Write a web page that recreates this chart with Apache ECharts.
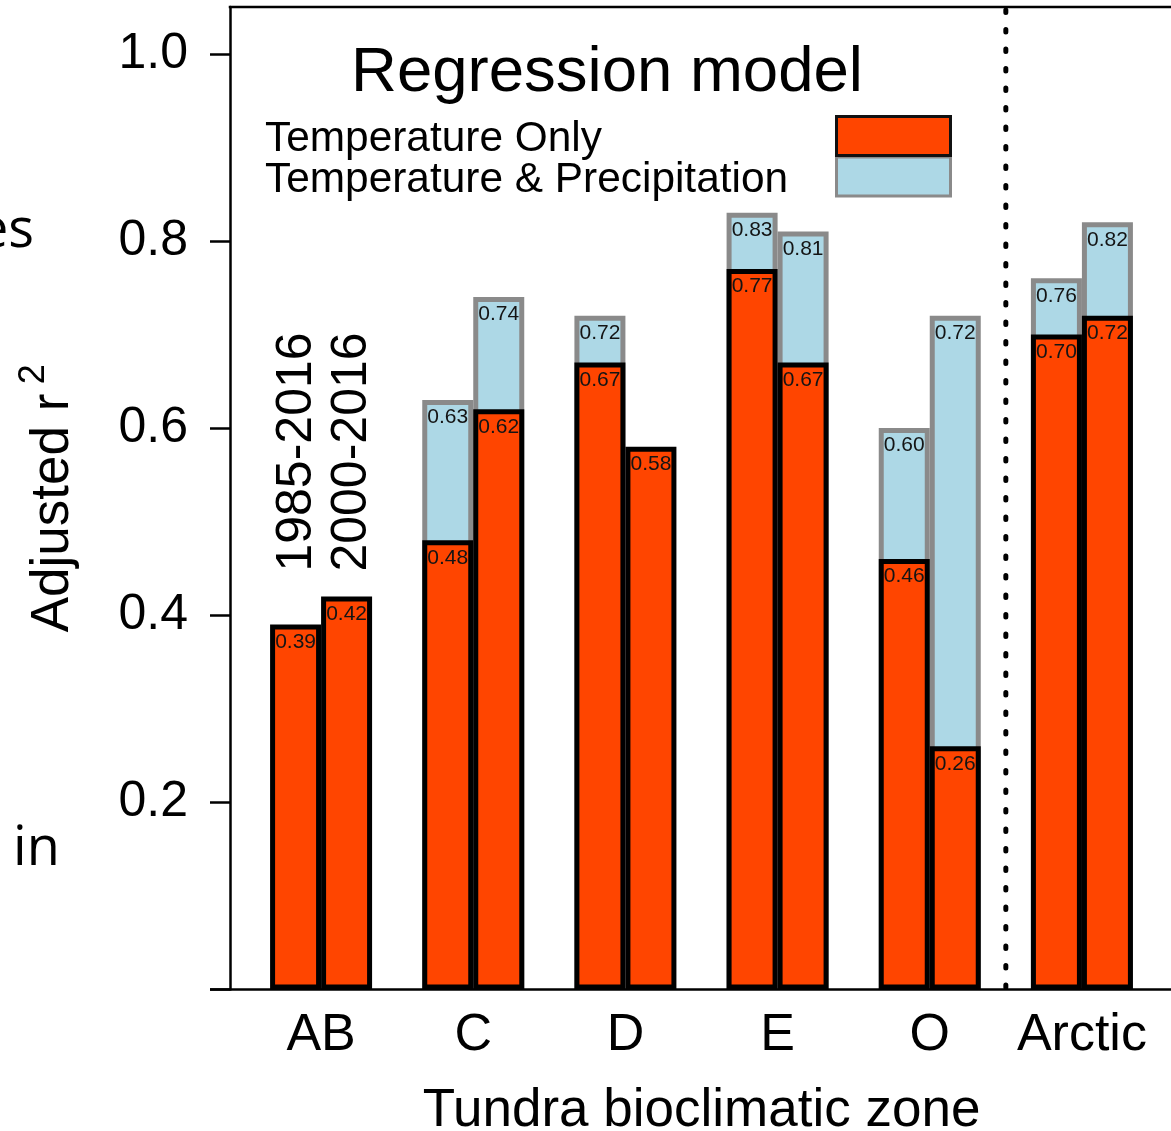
<!DOCTYPE html>
<html>
<head>
<meta charset="utf-8">
<script src="https://cdn.jsdelivr.net/npm/echarts@6/dist/echarts.min.js"></script>
<style>
  html, body { margin: 0; padding: 0; background: #ffffff; }
  #chart { width: 1171px; height: 1131px; }
</style>
</head>
<body>
<div id="chart"></div>
<script>
// Tundra bioclimatic zones and study periods
const zones = ['AB', 'C', 'D', 'E', 'O', 'Arctic'];
const periods = ['1985-2016', '2000-2016'];
const modelNames = ['Temperature Only', 'Temperature & Precipitation'];

// Adjusted r² of the temperature-only regression
const tempOnly1985 = [0.39, 0.48, 0.67, 0.77, 0.46, 0.70];
const tempOnly2000 = [0.42, 0.62, 0.58, 0.67, 0.26, 0.72];

// Adjusted r² of the temperature & precipitation regression (null: not retained)
const tempPrecip1985 = [null, 0.63, 0.72, 0.83, 0.60, 0.76];
const tempPrecip2000 = [null, 0.74, null, 0.81, 0.72, 0.82];

// Y axis ticks and labels
const yTicks = [0, 0.2, 0.4, 0.6, 0.8, 1.0];
const yLabels = [0.2, 0.4, 0.6, 0.8, 1.0];

const FONT = '"Liberation Sans", Arial, Helvetica, sans-serif';
const RED = '#ff4500';
const BLUE = '#add8e6';
const GREY = '#8a8a8a';
const BAR_W = 51;

const chart = echarts.init(document.getElementById('chart'), null, { renderer: 'canvas' });

function barLabel() {
  return {
    show: true,
    position: 'insideTop',
    distance: 7,
    fontFamily: FONT,
    fontSize: 21,
    color: '#141414',
    formatter: p => (p.value == null ? '' : Number(p.value).toFixed(2))
  };
}

function precipSeries(name, data) {
  return {
    name: name,
    type: 'bar',
    xAxisIndex: 0,
    barWidth: BAR_W,
    barGap: '0%',
    z: 2,
    data: data,
    itemStyle: { color: BLUE, borderColor: GREY, borderWidth: 5 },
    label: barLabel(),
    emphasis: { disabled: true },
    animation: false
  };
}

function tempSeries(name, data) {
  return {
    name: name,
    type: 'bar',
    xAxisIndex: 1,
    barWidth: BAR_W,
    barGap: '0%',
    z: 3,
    data: data,
    itemStyle: { color: RED, borderColor: '#000000', borderWidth: 5 },
    label: barLabel(),
    emphasis: { disabled: true },
    animation: false
  };
}

const option = {
  backgroundColor: '#ffffff',
  animation: false,
  textStyle: { fontFamily: FONT },
  grid: { left: 245, right: 13, top: 7, bottom: 141.5, containLabel: false, outerBoundsMode: 'none' },
  xAxis: [
    {
      type: 'category',
      data: zones,
      axisLine: { show: false },
      axisTick: { show: false },
      axisLabel: { interval: 0, hideOverlap: false, fontFamily: FONT, fontSize: 52, color: '#000', margin: 20 },
      name: 'Tundra bioclimatic zone',
      nameLocation: 'middle',
      nameGap: 95,
      nameTextStyle: { fontFamily: FONT, fontSize: 53, color: '#000' }
    },
    { type: 'category', data: zones, show: false }
  ],
  yAxis: {
    type: 'value',
    min: 0,
    max: 1.05,
    offset: 15,
    axisLine: { show: true, lineStyle: { color: '#000', width: 2.5 } },
    axisTick: { show: true, inside: false, length: 20, lineStyle: { color: '#000', width: 2.5 }, customValues: yTicks },
    axisLabel: {
      customValues: yLabels,
      formatter: v => Number(v).toFixed(1),
      fontFamily: FONT, fontSize: 50, color: '#000', margin: 42
    },
    splitLine: { show: false },
    name: '{a|Adjusted r} {s|2}',
    nameLocation: 'middle',
    nameRotate: 90,
    nameGap: 140,
    nameTextStyle: {
      fontFamily: FONT,
      color: '#000',
      rich: {
        a: { fontFamily: FONT, fontSize: 53, color: '#000' },
        s: { fontFamily: FONT, fontSize: 36, color: '#000', padding: [0, 0, 38, 6] }
      }
    }
  },
  series: [
    precipSeries(modelNames[1] + ' ' + periods[0], tempPrecip1985),
    precipSeries(modelNames[1] + ' ' + periods[1], tempPrecip2000),
    tempSeries(modelNames[0] + ' ' + periods[0], tempOnly1985),
    tempSeries(modelNames[0] + ' ' + periods[1], tempOnly2000)
  ]
};

chart.setOption(option);

// Frame, separator, title, legend and period labels placed from the axes' scales
const yTop = chart.convertToPixel({ yAxisIndex: 0 }, 1.05);
const yZero = chart.convertToPixel({ yAxisIndex: 0 }, 0);
const xO = chart.convertToPixel({ xAxisIndex: 0 }, 'O');
const xArctic = chart.convertToPixel({ xAxisIndex: 0 }, 'Arctic');
const xAB = chart.convertToPixel({ xAxisIndex: 0 }, 'AB');
const xSep = (xO + xArctic) / 2;
const axisX = 230;
const W = 1171;

chart.setOption({
  graphic: [
    // top and bottom frame lines
    { type: 'line', silent: true, z: 10,
      shape: { x1: axisX - 1.25, y1: yTop, x2: W + 5, y2: yTop },
      style: { stroke: '#000', lineWidth: 2.5 } },
    { type: 'line', silent: true, z: 10,
      shape: { x1: axisX - 20, y1: yZero, x2: W + 5, y2: yZero },
      style: { stroke: '#000', lineWidth: 2.5 } },
    // dotted separator before the Arctic-wide column
    { type: 'line', silent: true, z: 10,
      shape: { x1: xSep, y1: yTop + 3, x2: xSep, y2: yZero },
      style: { stroke: '#000', lineWidth: 5, lineDash: [2.5, 17], lineCap: 'round' } },
    // title
    { type: 'text', silent: true, z: 10, x: 607, y: 73,
      style: { text: 'Regression model', font: '63.5px ' + FONT, fill: '#000',
               textAlign: 'center', textVerticalAlign: 'middle' } },
    // legend text
    { type: 'text', silent: true, z: 10, x: 265, y: 139,
      style: { text: modelNames[0], font: '42.4px ' + FONT, fill: '#000',
               textAlign: 'left', textVerticalAlign: 'middle' } },
    { type: 'text', silent: true, z: 10, x: 265, y: 180,
      style: { text: modelNames[1], font: '42.4px ' + FONT, fill: '#000',
               textAlign: 'left', textVerticalAlign: 'middle' } },
    // legend swatches
    { type: 'rect', silent: true, z: 10,
      shape: { x: 836.5, y: 157, width: 114, height: 39 },
      style: { fill: BLUE, stroke: GREY, lineWidth: 3 } },
    { type: 'rect', silent: true, z: 11,
      shape: { x: 836.5, y: 116.5, width: 114, height: 39 },
      style: { fill: RED, stroke: '#111', lineWidth: 3 } },
    // period labels above the first group
    { type: 'text', silent: true, z: 10, x: xAB - 24, y: 452, rotation: Math.PI / 2,
      style: { text: periods[0], font: '50px ' + FONT, fill: '#000',
               textAlign: 'center', textVerticalAlign: 'middle' } },
    { type: 'text', silent: true, z: 10, x: xAB + 31, y: 452, rotation: Math.PI / 2,
      style: { text: periods[1], font: '50px ' + FONT, fill: '#000',
               textAlign: 'center', textVerticalAlign: 'middle' } },
    // neighbouring slide text partly in view at the left edge
    { type: 'text', silent: true, z: 10, x: 34, y: 205,
      style: { text: 'es', font: '54px "Open Sans", sans-serif', fill: '#000',
               textAlign: 'right', textVerticalAlign: 'top' } },
    { type: 'text', silent: true, z: 10, x: 13, y: 823,
      style: { text: 'in', font: '54px "Open Sans", sans-serif', fill: '#000',
               textAlign: 'left', textVerticalAlign: 'top' } }
  ]
});
</script>
</body>
</html>
